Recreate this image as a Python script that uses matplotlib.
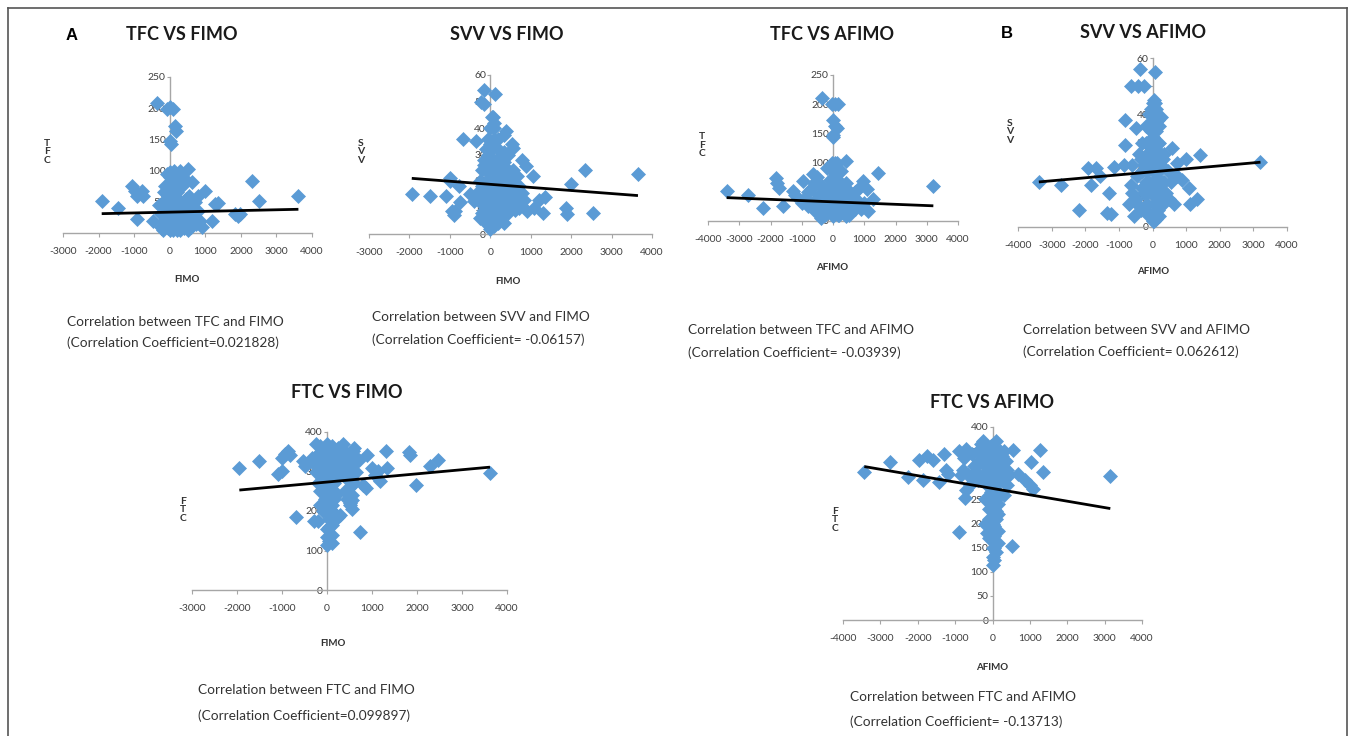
import numpy as np
import matplotlib
matplotlib.use("Agg")
import matplotlib.pyplot as plt
from matplotlib.lines import Line2D

plt.rcParams['font.family'] = ['Lato', 'DejaVu Sans']
plt.rcParams['axes.unicode_minus'] = False

W, H = 1355, 736

# ---------------- data ----------------
# Panel A1: TFC vs FIMO
tfc_fimo_x = [-365, -85, 10, 103, 150, 170, 10, 40, 10, -85, 506, 290, -1068, -975, -787, -740, -928,
              -1912, -1443, -928, -460, -131, 618, 993, 1368, 1275, 1180, 1837, 1930, 1977, 2324, 2512, 3618,
              -250, -250, -200, -150, -100, -50, -50, 0, 0, 0, 0, 50, 50, 100, 100, 150, 150, 200, 200, 250,
              300, 300, 350, 400, 400, 450, 500, 550, 600, 650, 700, 750, 800, 850, 900, 200, 300, 120, -150,
              -300, 450,
              -200, -100, 50, 150, 250, 350, 450, 550, 600, 700, 800, 0, 100, 300, 500]
tfc_fimo_y = [208, 199, 202, 199, 172, 164, 148, 142, 97, 94, 102, 99, 75, 67, 67, 59, 59,
              51, 40, 22, 19, 75, 81, 67, 48, 46, 19, 30, 27, 30, 83, 52, 59,
              10, 30, 50, 20, 40, 60, 8, 25, 45, 70, 90, 10, 35, 55, 80, 20, 40, 65, 5, 30,
              50, 15, 75, 35, 8, 55, 20, 40, 10, 30, 50, 15, 35, 20, 10, 90, 95, 100, 65,
              45, 85,
              5, 25, 50, 60, 75, 35, 25, 60, 30, 25, 60, 5, 5, 5, 5]
tfc_fimo_trend = [31, 38]

# Panel A2: SVV vs FIMO
svv_fimo_x = [-149, 124, -231, -149, 66, 83, -678, -347, 397, 347, 562, 537, 330, 785, 893, 1058, -992, -1008,
              -785, -1942, -1488, -1091, -760, -950, -868, -909, -496, -413, 785, 826, 909, 1074, 1198, 1364,
              1306, 1884, 1900, 2000, 2331, 2545, 3653,
              0, 100, 200, -50, 250, -200, 0, 150, 300, 450, 600, -250, -100, 50, 200, 350, 500, 650,
              -300, -150, 0, 150, 300, 450, 600, -250, -100, 50, 200, 350, 500, 650, -200, -50, 100, 250,
              400, 550, -150, 0, 150, 300, 450, -100, 50, 200, 350, -50, 100, 0, 50, -150, 700,
              -50, 100, 250, 400, 550, -200, 0, 100, 300, 450, 600, 700,
              -250, -100, 50, 200, 350, -150, 0, 100, 250, -50, 400, 500, 150, -200, -50, 300, 50, 0, 200, -100]
svv_fimo_y = [54.4, 53, 50, 49, 44, 42, 36, 35, 39, 37.5, 32.5, 34, 27, 28, 25.6, 22, 21, 20,
              18, 15, 14.4, 14.4, 12, 8.7, 8.7, 7, 15, 12.5, 15.6, 13, 8.7, 10, 13, 13.8,
              8, 10, 7.5, 18.8, 24, 8, 22.5,
              2, 3, 4, 5, 6, 8, 8, 8, 8, 8, 9, 12, 12, 12, 12, 12, 12, 12,
              16, 16, 16, 16, 16, 16, 17, 20, 20, 20, 20, 20, 20, 22, 24, 24, 24, 24,
              24, 24, 28, 28, 28, 29, 30, 32, 32, 32, 31, 36, 36, 40, 44, 26, 18,
              30, 40, 28, 18, 14, 14, 20, 16, 22, 24, 13, 10,
              6, 4, 6, 10, 4, 9, 12, 20, 18, 14, 10, 16, 26, 18, 20, 12, 28, 34, 36, 24]
svv_fimo_trend = [21, 14.5]

# Panel A3: TFC vs AFIMO
tfc_afimo_x = [-363, -43, 64, 171, 11, 64, -11, 11, 117, -43, 117, 416, 1450, 970, 1077, -3403, -2709, -2229,
               -1824, -1781, -1717, -1589, -1269, -1216, -949, -629, 3211, 1291, 1131,
               -900, -800, -700, -600, -550, -450, -400, -350, -300, -250, -200, -150, -100, -50, 0, 0, 0, 0,
               50, 100, 100, 150, 200, 200, 250, 300, 350, 400, 400, 450, 500, 550, 600, 650, 700, 800, 900,
               1000, -1000, -500, 250, -200,
               -800, -600, -500, -300, -150, -50, 50, 100, 150, 200, 300, 350, 450, 550, 700, 800, 0, -250,
               500, 100, -400]
tfc_afimo_y = [210, 200, 200, 200, 173, 162, 148, 143, 159, 99, 99, 102, 82, 68, 54, 52, 44, 23,
               74, 65, 56, 26, 51, 45, 68, 80, 60, 37, 17,
               40, 25, 55, 35, 15, 45, 25, 60, 10, 35, 50, 20, 70, 40, 8, 30, 55, 85,
               100, 20, 45, 70, 10, 35, 55, 25, 45, 8, 65, 30, 50, 15, 40, 25, 50, 35, 20,
               30, 30, 75, 85, 90,
               50, 65, 20, 40, 55, 20, 60, 70, 10, 50, 40, 15, 55, 35, 20, 55, 45, 10,
               10, 30, 5]
tfc_afimo_trend = [40, 26]

# Panel B1: SVV vs AFIMO
svv_afimo_x = [-357, 89, -654, -436, -258, 59, 89, -832, -476, 139, 238, -832, 585, 1407, 1011, -1923, -1695,
               -1566, -1843, -1150, -852, 714, -3380, -2735, -2190, -1298, -1348, -1249, 1080, 1328, 1130,
               733, 882, 634, 3211,
               -700, -650, -600, -500, -450, -400, -350, -300, -250, -200, -150, -100, -50, -50, 0, 0, 0, 0,
               0, 50, 50, 100, 100, 100, 150, 150, 200, 200, 250, 300, 300, 350, 400, 450, 500, 550, -100,
               -300, 50, -550,
               -250, -150, -50, 0, 50, 100, 150, 200, 250, 350, -350, -450, -200, 0, 50, -600, 0, 100,
               -200, -100, 100, 200, -250, -150, -50, 50, 150, 250, -200, -100, 0, 0, 100, 200, -50, 50, 150,
               -150, 250, -300, 300]
svv_afimo_y = [56, 55, 50, 50, 50, 45, 44, 38, 35, 40, 39, 29, 28, 25.6, 24, 21, 21,
               18, 15, 21.4, 22, 22.6, 16, 15, 6, 12, 5, 4.5, 14, 10, 8,
               18, 16.6, 8.3, 23,
               8, 15, 22, 10, 18, 26, 6, 14, 22, 30, 8, 16, 24, 34, 4, 12, 20, 28,
               38, 44, 8, 16, 26, 34, 6, 20, 12, 30, 22, 8, 16, 26, 12, 20, 10, 16, 40,
               20, 2, 4,
               6, 26, 12, 32, 20, 8, 30, 20, 10, 16, 24, 8, 16, 44, 38, 12, 2, 42,
               6, 4, 3, 4, 12, 20, 28, 30, 14, 26, 36, 30, 16, 24, 22, 36, 42, 26, 38,
               12, 16, 30, 24]
svv_afimo_trend = [16, 23]

# Panel A4: FTC vs FIMO
ftc_fimo_x = [-1948, -1504, -1007, -933, -859, -822, -1081, -1007, -689, -244, -526, -489, -341, 585, 881, 867,
              807, 993, 1067, 1141, 1178, 1311, 1341, 1830, 1844, 1970, 2281, 2459, 3622, 733, 511, 548, 252,
              289, -289,
              0, 50, 100, 0, 100, 50, 150, 0, 100, -50, 50, 150, 0, 100, 200, -100, 0, 100, 200, -150, -50, 50,
              150, 250, -200, -100, 0, 100, 200, 300, 300, 350, -250, -200, -150, 0, -100, 200,
              400, 450, 500, 550, 600, 450, 500, 550, 450, 550, 400, 600, 650, 700,
              -250, -150, 50, 150, 250, -100, -50, 50, 150, -50, 50, 100, 50, 150, -150, -200, 250, 0, 100,
              200, 350, 500, 600, 550, 450, 500, 600, 400, 350, -300, 200, 0, 100]
ftc_fimo_y = [309, 326, 335, 345, 352, 343, 294, 301, 186, 369, 326, 314, 335, 352, 342, 258,
              267, 309, 292, 301, 275, 352, 309, 350, 342, 265, 314, 328, 297, 148, 216, 229, 186,
              191, 174,
              115, 125, 140, 155, 165, 180, 195, 200, 215, 230, 240, 250, 260, 270, 280, 285, 295, 305, 315,
              305, 320, 330, 340, 330, 330, 345, 355, 365, 355, 345, 310, 290, 300, 270, 250, 370, 200, 190,
              350, 330, 310, 290, 340, 280, 260, 240, 230, 205, 300, 320, 300, 330,
              340, 365, 350, 320, 360, 260, 275, 285, 270, 210, 205, 185, 160, 230, 215, 175, 300, 330, 330,
              335, 370, 340, 360, 320, 300, 220, 270, 250, 320, 320, 240, 135, 120]
ftc_fimo_trend = [253, 311]

# Panel B2: FTC vs AFIMO
ftc_afimo_x = [-3429, -2741, -2268, -1955, -1759, -1580, -1866, -1420, -1286, -1241, -1196, -884, -723, 545,
               1259, 1036, 1348, 3152, 527, 679, 857, 991, 1080,
               0, 50, 100, 0, 100, 50, 150, -50, 0, 100, 150, -100, 50, 150, 0, 100, 200, -50, 50, 150, 250,
               -150, -50, 50, 150, 250, 350, -250, -150, -50, 50, 150, 250, 350, -350, -250, -150, -50, 50,
               -300, -450, -550, -650, -750, -600, -800, -400, -200, -150, 300, 400, 450, -250,
               -100, 0, 100, 200, -100, 0, 100, 200, -200, -400, -500, -700, -900, -850, -550, -350, 300, 400,
               0, -100, 100, -200, -100, 0, 50, 100, 150, 0, 50, 150, -50, -700, 200, -300]
ftc_afimo_y = [307, 328, 297, 331, 339, 332, 291, 286, 345, 310, 303, 183, 252, 353,
               353, 328, 307, 298, 153, 303, 290, 279, 272,
               115, 125, 140, 150, 160, 175, 185, 190, 200, 210, 220, 210, 230, 240, 245, 255, 260, 265, 275,
               285, 290, 280, 295, 305, 315, 320, 310, 300, 315, 325, 335, 345, 340, 330, 330, 340, 350, 360,
               350, 365, 320, 345, 300, 335, 280, 310, 290, 250, 180, 260, 280, 300, 370,
               230, 270, 290, 300, 300, 320, 320, 330, 330, 350, 320, 355, 350, 300, 300, 300, 350, 310,
               340, 345, 370, 200, 170, 180, 195, 225, 160, 130, 150, 265, 240, 270, 350, 330]
ftc_afimo_trend = [318, 231]

# ---------------- figure ----------------
fig = plt.figure(figsize=(W / 100, H / 100), dpi=100)
fig.patch.set_facecolor('white')

BLUE = '#5B9BD5'
AXC = '#A6A6A6'
TXT = '#404040'


def px_axes(x0, x1, y0, y1):
    """x0,x1: pixel left/right of x-limits; y0: pixel of y=0 (bottom), y1: pixel of ymax (top)."""
    return [x0 / W, 1 - y0 / H, (x1 - x0) / W, (y0 - y1) / H]


def panel(xs, ys, trend, xlim, ymax, ystep, rect):
    ax = fig.add_axes(px_axes(*rect))
    ax.set_xlim(*xlim)
    ax.set_ylim(0, ymax)
    ax.patch.set_alpha(0)
    for s in ('top', 'right'):
        ax.spines[s].set_visible(False)
    ax.spines['left'].set_position(('data', 0))
    for s in ('left', 'bottom'):
        ax.spines[s].set_color(AXC)
        ax.spines[s].set_linewidth(1.0)
    ax.set_xticks(np.arange(xlim[0], xlim[1] + 1, 1000))
    ax.set_yticks(np.arange(0, ymax + 0.1, ystep))
    ax.xaxis.set_major_formatter(matplotlib.ticker.FuncFormatter(lambda v, p: f"{int(round(v))}"))
    ax.yaxis.set_major_formatter(matplotlib.ticker.FuncFormatter(lambda v, p: f"{int(round(v))}"))
    ax.tick_params(axis='x', direction='out', length=3, width=0.8, color=AXC, pad=7,
                   labelsize=7.5, labelcolor=TXT)
    ax.tick_params(axis='y', direction='out', length=2, width=0.8, color=AXC, pad=1,
                   labelsize=7.5, labelcolor=TXT)
    ax.plot(xs, ys, linestyle='none', marker='D', ms=7.3, color=BLUE, mec=BLUE, mew=0.5,
            zorder=3, clip_on=False)
    ax.plot([min(xs), max(xs)], trend, color='black', lw=2, zorder=4, solid_capstyle='butt')
    return ax


def ftext(x, y, s, **kw):
    fig.text(x / W, 1 - y / H, s, **kw)


def titles(title_xy, title, ylab_xy, ylab, xlab_xy, xlab, cap_xy, cap1, cap2):
    ftext(*title_xy, title, ha='center', va='center', fontsize=13, fontweight='bold', color='#1a1a1a')
    ftext(*ylab_xy, "\n".join(ylab), ha='center', va='center', fontsize=7.5, fontweight='bold',
          color='#333333', linespacing=0.9)
    ftext(*xlab_xy, xlab, ha='center', va='center', fontsize=7, fontweight='bold', color='#333333')
    ftext(cap_xy[0], cap_xy[1], cap1, ha='left', va='center', fontsize=9.8, color='#333333')
    ftext(cap_xy[0], cap_xy[2], cap2, ha='left', va='center', fontsize=9.8, color='#333333')


# Panel A1
panel(tfc_fimo_x, tfc_fimo_y, tfc_fimo_trend, (-3000, 4000), 250, 50, (63, 312, 233, 77))
titles((182, 35), "TFC VS FIMO", (47, 152), "TFC", (187, 280), "FIMO", (67, 322, 343),
       "Correlation between TFC and FIMO", "(Correlation Coefficient=0.021828)")

# Panel A2
panel(svv_fimo_x, svv_fimo_y, svv_fimo_trend, (-3000, 4000), 60, 10, (369, 652, 234, 75))
titles((507, 35), "SVV VS FIMO", (361, 152), "SVV", (508, 282), "FIMO", (372, 317, 340),
       "Correlation between SVV and FIMO", "(Correlation Coefficient= -0.06157)")

# Panel A3
panel(tfc_afimo_x, tfc_afimo_y, tfc_afimo_trend, (-4000, 4000), 250, 50, (708, 958, 221, 75))
titles((832, 35), "TFC VS AFIMO", (702, 145), "TFC", (832, 267), "AFIMO", (688, 330, 353),
       "Correlation between TFC and AFIMO", "(Correlation Coefficient= -0.03939)")

# Panel B1
panel(svv_afimo_x, svv_afimo_y, svv_afimo_trend, (-4000, 4000), 60, 10, (1018, 1287, 227, 58))
titles((1143, 32), "SVV VS AFIMO", (1010, 132), "SVV", (1153, 272), "AFIMO", (1023, 330, 352),
       "Correlation between SVV and AFIMO", "(Correlation Coefficient= 0.062612)")

# Panel A4
panel(ftc_fimo_x, ftc_fimo_y, ftc_fimo_trend, (-3000, 4000), 400, 100, (192, 507, 590, 432))
titles((347, 393), "FTC VS FIMO", (183, 510), "FTC", (333, 643), "FIMO", (198, 690, 716),
       "Correlation between FTC and FIMO", "(Correlation Coefficient=0.099897)")

# Panel B2
panel(ftc_afimo_x, ftc_afimo_y, ftc_afimo_trend, (-4000, 4000), 400, 50, (843, 1142, 620, 427))
titles((992, 402), "FTC VS AFIMO", (835, 520), "FTC", (992, 667), "AFIMO", (850, 697, 722),
       "Correlation between FTC and AFIMO", "(Correlation Coefficient= -0.13713)")

# panel letters
ftext(72, 35, "A", ha='center', va='center', fontsize=12, fontweight='bold',
      family=['Liberation Sans', 'DejaVu Sans'], color='black')
ftext(1007, 33, "B", ha='center', va='center', fontsize=12, fontweight='bold',
      family=['Liberation Sans', 'DejaVu Sans'], color='black')

# outer frame
fc = '#555555'
fig.add_artist(Line2D([8 / W, 1347 / W], [1 - 8 / H, 1 - 8 / H], color=fc, lw=1.2))
fig.add_artist(Line2D([8 / W, 8 / W], [0, 1 - 8 / H], color=fc, lw=1.2))
fig.add_artist(Line2D([1347 / W, 1347 / W], [0, 1 - 8 / H], color=fc, lw=1.2))

fig.savefig("out.png", dpi=100, facecolor='white')
